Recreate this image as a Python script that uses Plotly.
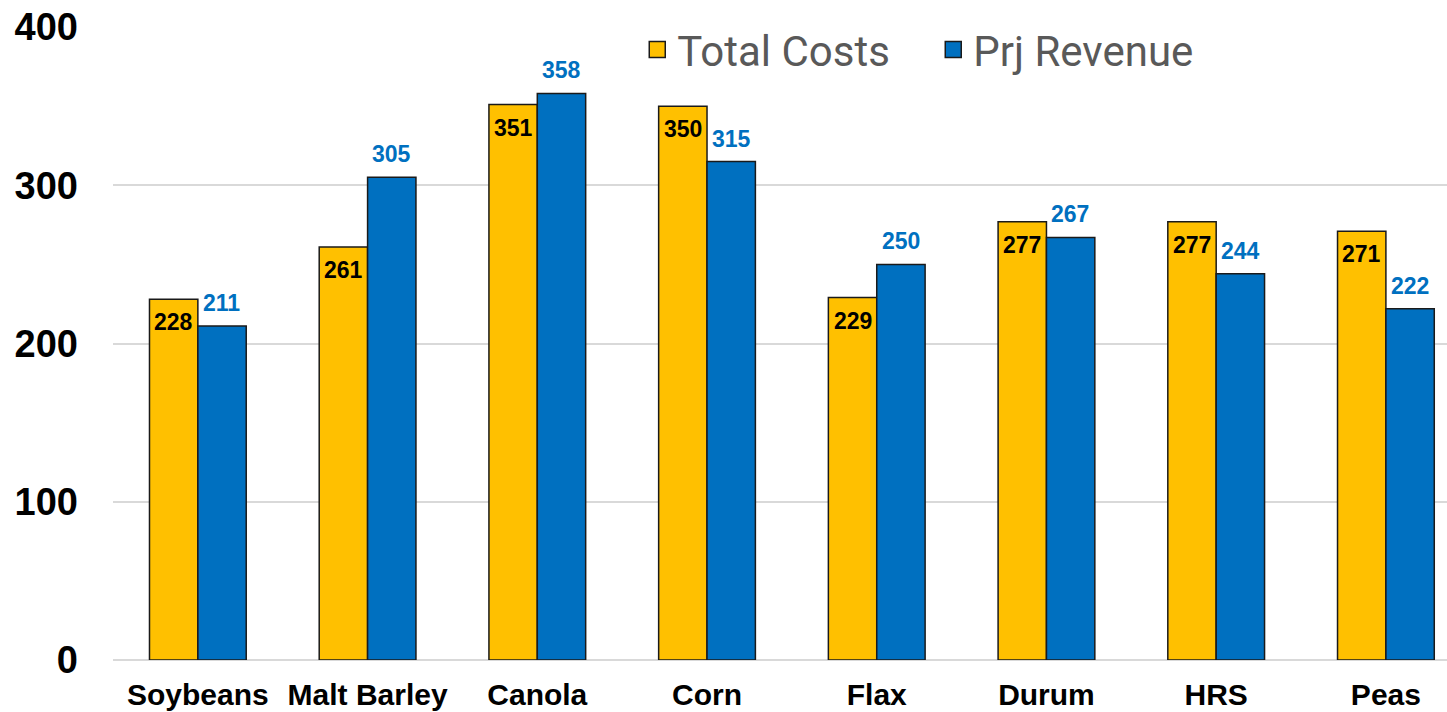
import plotly.graph_objects as go

categories = ["Soybeans", "Malt Barley", "Canola", "Corn", "Flax", "Durum", "HRS", "Peas"]
total_costs = [228, 261, 351, 350, 229, 277, 277, 271]
prj_revenue = [211, 305, 358, 315, 250, 267, 244, 222]
y_ticks = [0, 100, 200, 300, 400]

YELLOW = "#FFC000"
BLUE = "#0070C0"
OUTLINE = "#1a1a1a"

fig = go.Figure()
fig.add_trace(go.Bar(
    name="Total Costs", x=categories, y=total_costs, showlegend=False,
    marker=dict(color=YELLOW, line=dict(color=OUTLINE, width=1.5)),
))
fig.add_trace(go.Bar(
    name="Prj Revenue", x=categories, y=prj_revenue, showlegend=False,
    marker=dict(color=BLUE, line=dict(color=OUTLINE, width=1.5)),
))

# legend entries with larger square swatches
for name, col in [("Total Costs", YELLOW), ("Prj Revenue", BLUE)]:
    fig.add_trace(go.Scatter(
        name=name, x=[None], y=[None], mode="markers",
        marker=dict(symbol="square", size=22, color=col, line=dict(color=OUTLINE, width=1.5)),
    ))

# data labels placed through the axes at each bar's value
for cat, v in zip(categories, total_costs):
    fig.add_annotation(x=cat, y=v, text=str(v), showarrow=False, xshift=-24, yshift=-23,
                       font=dict(family="Arial", size=23, color="black", weight="bold"))
for cat, v in zip(categories, prj_revenue):
    fig.add_annotation(x=cat, y=v, text=str(v), showarrow=False, xshift=24, yshift=23,
                       font=dict(family="Arial", size=23, color=BLUE, weight="bold"))

fig.update_layout(
    width=1447, height=712,
    margin=dict(l=113, r=0, t=27, b=52),
    paper_bgcolor="white", plot_bgcolor="white",
    barmode="group", bargap=0.43, bargroupgap=0,
    showlegend=True,
    legend=dict(orientation="h", x=0.393, y=0.964, xanchor="left", yanchor="middle",
                font=dict(family="Roboto", size=42, color="#595959"),
                bgcolor="rgba(0,0,0,0)", itemwidth=30, entrywidth=251),
)
fig.update_xaxes(
    range=[-0.5, 7.36],
    showgrid=False, showline=False, ticks="",
    tickfont=dict(family="Arial", size=30, color="black", weight="bold"),
    ticklabelstandoff=14,
)
fig.update_yaxes(
    range=[0, 400], tickvals=y_ticks, showgrid=True, gridcolor="#D9D9D9", gridwidth=1.5,
    zeroline=True, zerolinecolor="#D9D9D9", zerolinewidth=1.5,
    showline=False, ticks="",
    tickfont=dict(family="Arial", size=38, color="black", weight="bold"),
    ticklabelstandoff=34,
)

fig.write_html("out.html", config={"displayModeBar": False},
               post_script="document.body.style.margin='0';")
